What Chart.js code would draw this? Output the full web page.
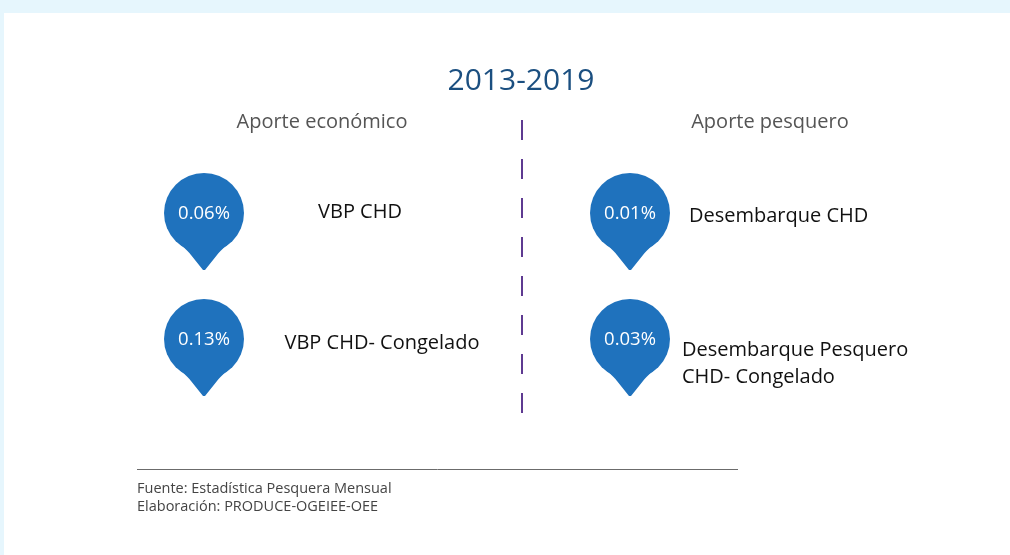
<!DOCTYPE html>
<html>
<head>
<meta charset="utf-8">
<script src="https://cdn.jsdelivr.net/npm/chart.js@4.4.1/dist/chart.umd.min.js"></script>
<style>
  html, body { margin: 0; padding: 0; background: #e6f6fd; }
  #wrap { position: absolute; left: 0; top: 0; width: 1010px; height: 555px; }
</style>
</head>
<body>
<div id="wrap"><canvas id="c" width="1010" height="555"></canvas></div>
<script>
// ---- data ----
const title = '2013-2019';
const groups = ['Aporte económico', 'Aporte pesquero'];
const itemLabels = [['VBP CHD'], ['VBP CHD- Congelado'], ['Desembarque CHD'], ['Desembarque Pesquero', 'CHD- Congelado']];
const itemValues = [0.06, 0.13, 0.01, 0.03];
const itemGroup = [0, 0, 1, 1];
const itemRow = [0, 1, 0, 1];
const sourceLines = ['Fuente: Estadística Pesquera Mensual', 'Elaboración: PRODUCE-OGEIEE-OEE'];

// ---- layout (pixels) ----
const W = 1010, H = 555;
const col0X = 204, col1X = 630;     // pin centers per group
const row0Y = 213, row1Y = 339;     // pin centers per row
const xR = W / (col1X - col0X), xMin = -col0X / (col1X - col0X);
const yR = H / (row1Y - row0Y), yMin = -row0Y / (row1Y - row0Y);
// label placement per item: [dx, dy, align]
const labelLayout = [[156, -1, 'center'], [178, 4, 'center'], [59, 3, 'left'], [52, 25, 'left']];

const PIN = '#1f72bd';
const FONT = '"Open Sans", "DejaVu Sans", sans-serif';

const infographic = {
  id: 'infographic',
  beforeDraw(chart) {
    const ctx = chart.ctx;
    ctx.save();
    ctx.fillStyle = '#e6f6fd';
    ctx.fillRect(0, 0, W, H);
    ctx.fillStyle = '#ffffff';
    ctx.fillRect(4, 13, W - 4, H - 13);
    ctx.restore();
  },
  afterDatasetsDraw(chart) {
    const ctx = chart.ctx;
    const xs = chart.scales.x;
    ctx.save();
    // title
    ctx.textBaseline = 'middle';
    ctx.textAlign = 'center';
    ctx.fillStyle = '#1b4f80';
    ctx.font = '30px ' + FONT;
    ctx.fillText(title, 521, 81);
    // group headers
    ctx.fillStyle = '#555555';
    ctx.font = '20px ' + FONT;
    groups.forEach((g, i) => {
      const px = xs.getPixelForValue(i);
      ctx.fillText(g, i === 0 ? px + 118 : px + 140, 122);
    });
    // dashed divider
    ctx.strokeStyle = '#5e3a91';
    ctx.lineWidth = 2;
    ctx.setLineDash([20, 19]);
    ctx.beginPath();
    ctx.moveTo(522, 120);
    ctx.lineTo(522, 413);
    ctx.stroke();
    ctx.setLineDash([]);
    // pins
    const meta = chart.getDatasetMeta(0);
    meta.data.forEach((el, i) => {
      const cx = el.x, cy = el.y, r = 40;
      ctx.fillStyle = PIN;
      ctx.beginPath();
      ctx.arc(cx, cy, r, 0, Math.PI * 2);
      ctx.fill();
      ctx.beginPath();
      ctx.moveTo(cx - 24, cy + 31);
      ctx.quadraticCurveTo(cx - 15, cy + 39, cx - 13, cy + 42);
      ctx.lineTo(cx - 1, cy + 57);
      ctx.lineTo(cx + 1, cy + 57);
      ctx.lineTo(cx + 13, cy + 42);
      ctx.quadraticCurveTo(cx + 15, cy + 39, cx + 24, cy + 31);
      ctx.closePath();
      ctx.fill();
      ctx.fillStyle = '#ffffff';
      ctx.font = '18.5px ' + FONT;
      ctx.textAlign = 'center';
      ctx.fillText(itemValues[i].toFixed(2) + '%', cx, cy + 1);
      // label
      const [dx, dy, al] = labelLayout[i];
      const lines = itemLabels[i];
      ctx.fillStyle = '#111111';
      ctx.font = '20px ' + FONT;
      ctx.textAlign = al;
      const lh = 27;
      lines.forEach((ln, k) => {
        ctx.fillText(ln, cx + dx, cy + dy + (k - (lines.length - 1) / 2) * lh);
      });
    });
    // source rule
    ctx.strokeStyle = '#6b6b6b';
    ctx.lineWidth = 1;
    ctx.beginPath();
    ctx.moveTo(137, 469.5);
    ctx.lineTo(738, 469.5);
    ctx.stroke();
    ctx.fillStyle = '#444444';
    ctx.font = '14.5px ' + FONT;
    ctx.textAlign = 'left';
    sourceLines.forEach((s, k) => ctx.fillText(s, 137, 489 + k * 18));
    ctx.restore();
  }
};

new Chart(document.getElementById('c'), {
  type: 'scatter',
  data: {
    datasets: [{
      data: itemValues.map((v, i) => ({ x: itemGroup[i], y: itemRow[i], v })),
      pointRadius: 0,
      pointHoverRadius: 0
    }]
  },
  options: {
    responsive: false,
    animation: false,
    layout: { padding: 0 },
    plugins: { legend: { display: false }, tooltip: { enabled: false }, title: { display: false } },
    scales: {
      x: { type: 'linear', display: false, min: xMin, max: xMin + xR },
      y: { type: 'linear', display: false, reverse: true, min: yMin, max: yMin + yR }
    }
  },
  plugins: [infographic]
});
</script>
</body>
</html>
